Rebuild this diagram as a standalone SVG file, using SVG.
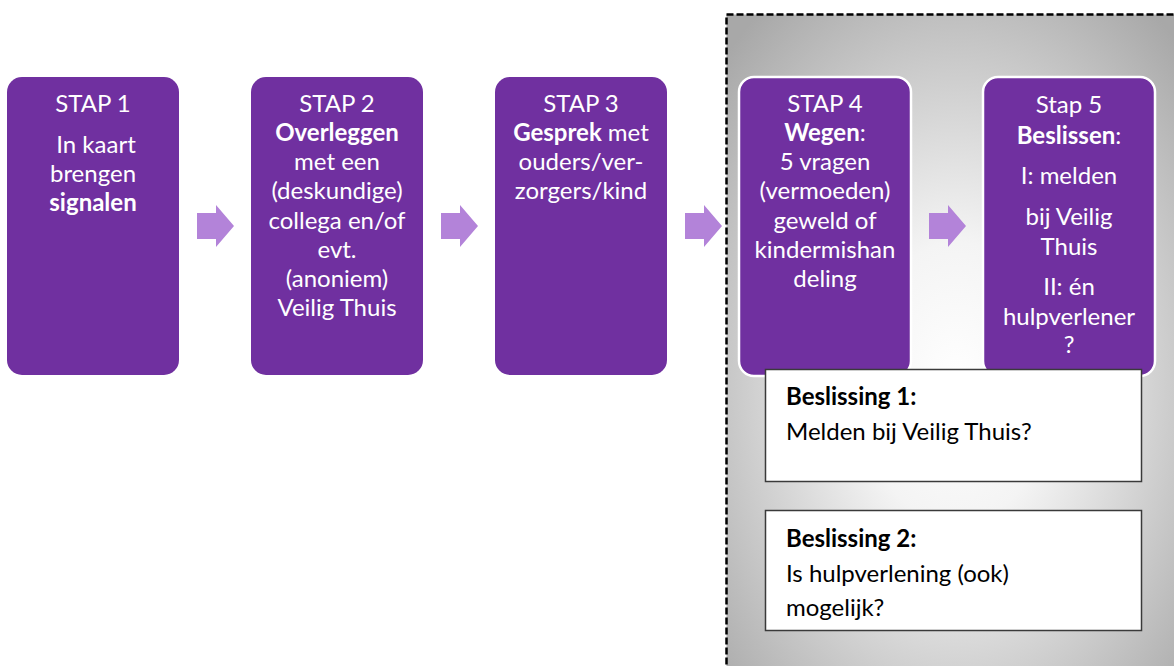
<svg xmlns="http://www.w3.org/2000/svg" width="1174" height="666" viewBox="0 0 1174 666">
<defs>
<radialGradient id="bg" cx="0.5" cy="0.55" r="0.7">
<stop offset="0" stop-color="#ffffff"/>
<stop offset="0.3" stop-color="#f4f4f4"/>
<stop offset="1" stop-color="#a8a8a8"/>
</radialGradient>
<style>
.step{fill:#7030a0;}
.hl{stroke:#ffffff;stroke-width:2.5;}
.t{font-family:Lato,"Liberation Sans",sans-serif;font-size:24px;fill:#ffffff;text-anchor:middle;}
.b{font-weight:bold;}
.dec{fill:#ffffff;stroke:#3a3a3a;stroke-width:1.5;}
.d{font-family:Lato,"Liberation Sans",sans-serif;font-size:24px;fill:#000000;}
.arr{fill:#b383d9;}
</style>
</defs>
<rect width="1174" height="666" fill="#ffffff"/>
<g id="region">
<rect x="726.5" y="14.5" width="460" height="670" fill="url(#bg)" stroke="#000000" stroke-width="2.5" stroke-dasharray="7 3"/>
</g>
<g id="connectors">
<path class="arr" d="M197 213H216V205L234 226L216 247V239H197Z"/>
<path class="arr" d="M441 213H460V205L478 226L460 247V239H441Z"/>
<path class="arr" d="M685 213H704V205L722 226L704 247V239H685Z"/>
<path class="arr" d="M929 213H948V205L966 226L948 247V239H929Z"/>
</g>
<g id="stap1">
<rect class="step" x="7" y="77" width="172" height="298" rx="15"/>
<text class="t" x="93" y="112">STAP 1</text>
<text class="t" x="96" y="153">In kaart</text>
<text class="t" x="93" y="182">brengen</text>
<text class="t b" x="93" y="211">signalen</text>
</g>
<g id="stap2">
<rect class="step" x="251" y="77" width="172" height="298" rx="15"/>
<text class="t" x="337" y="112">STAP 2</text>
<text class="t b" x="337" y="141">Overleggen</text>
<text class="t" x="337" y="170">met een</text>
<text class="t" x="337" y="199">(deskundige)</text>
<text class="t" x="337" y="229">collega en/of</text>
<text class="t" x="337" y="258">evt.</text>
<text class="t" x="337" y="287">(anoniem)</text>
<text class="t" x="337" y="316">Veilig Thuis</text>
</g>
<g id="stap3">
<rect class="step" x="495" y="77" width="172" height="298" rx="15"/>
<text class="t" x="581" y="112">STAP 3</text>
<text class="t" x="581" y="141"><tspan class="b">Gesprek</tspan> met</text>
<text class="t" x="581" y="170">ouders/ver-</text>
<text class="t" x="581" y="199">zorgers/kind</text>
</g>
<g id="stap4">
<rect class="step hl" x="739" y="77" width="172" height="299" rx="15"/>
<text class="t" x="825" y="112">STAP 4</text>
<text class="t" x="825" y="141"><tspan class="b">Wegen</tspan>:</text>
<text class="t" x="825" y="170">5 vragen</text>
<text class="t" x="825" y="199">(vermoeden)</text>
<text class="t" x="825" y="229">geweld of</text>
<text class="t" x="825" y="258">kindermishan</text>
<text class="t" x="825" y="287">deling</text>
</g>
<g id="stap5">
<rect class="step hl" x="983" y="77" width="172" height="299" rx="15"/>
<text class="t" x="1069" y="113">Stap 5</text>
<text class="t" x="1069" y="144"><tspan class="b">Beslissen</tspan>:</text>
<text class="t" x="1069" y="184">I: melden</text>
<text class="t" x="1069" y="225">bij Veilig</text>
<text class="t" x="1069" y="255">Thuis</text>
<text class="t" x="1069" y="295">II: én</text>
<text class="t" x="1069" y="325">hulpverlener</text>
<text class="t" x="1069" y="353">?</text>
</g>
<g id="beslissing1">
<rect class="dec" x="765.5" y="369.5" width="376" height="112"/>
<text class="d b" x="786" y="405">Beslissing 1:</text>
<text class="d" x="786" y="440">Melden bij Veilig Thuis?</text>
</g>
<g id="beslissing2">
<rect class="dec" x="765.5" y="510.5" width="376" height="120"/>
<text class="d b" x="786" y="547">Beslissing 2:</text>
<text class="d" x="786" y="582">Is hulpverlening (ook)</text>
<text class="d" x="786" y="616">mogelijk?</text>
</g>
</svg>
